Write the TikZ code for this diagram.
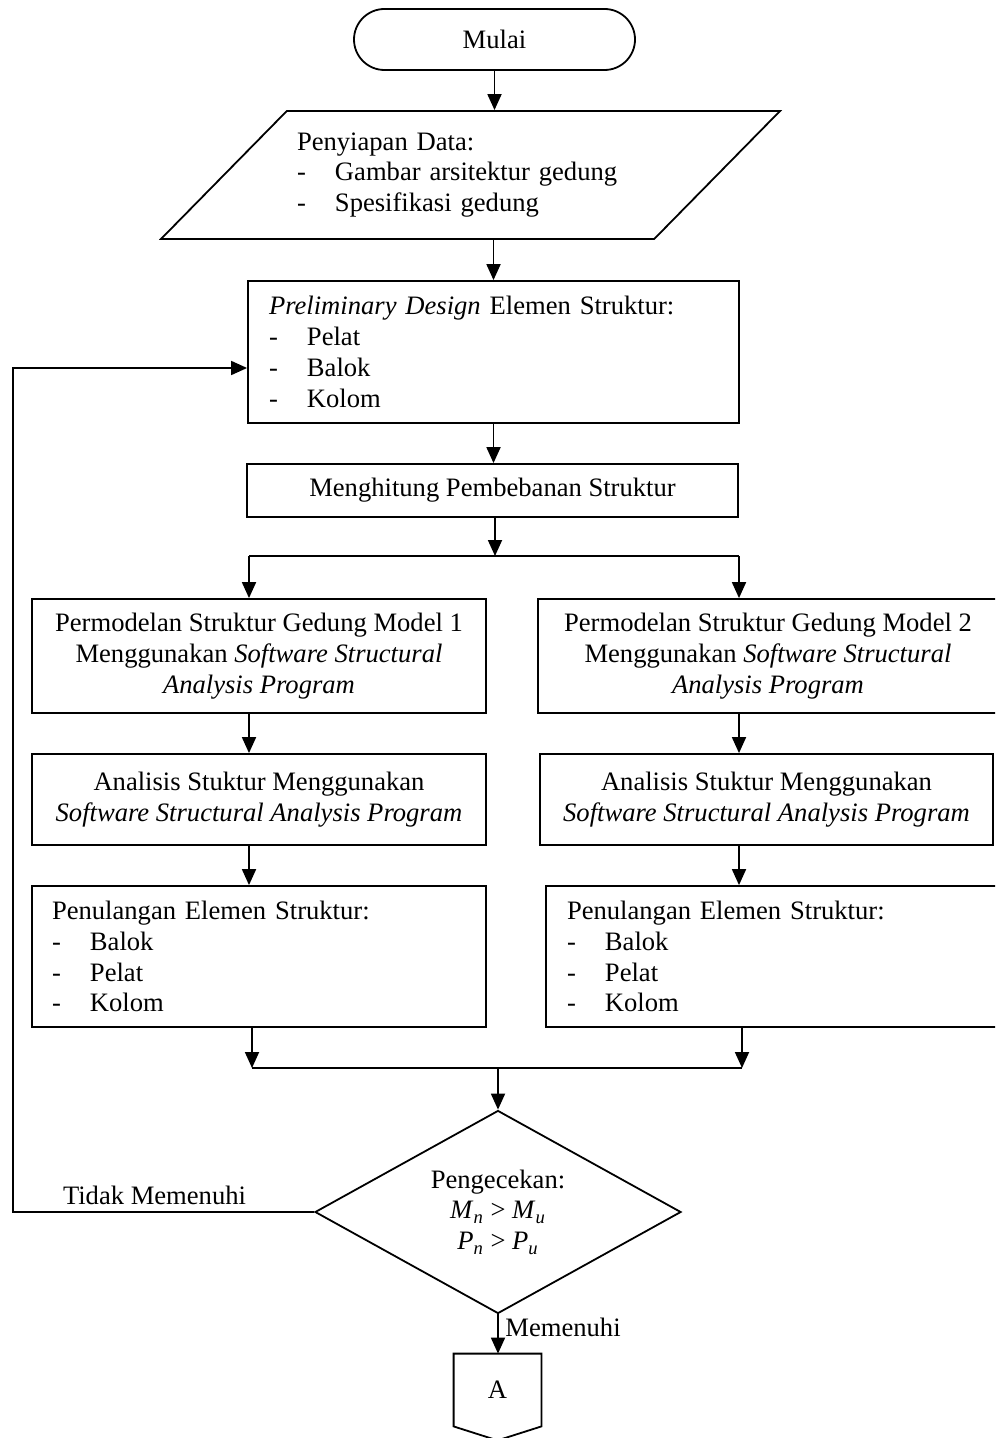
\documentclass[tikz,border=0pt]{standalone}
\usepackage{fontspec}
\setmainfont{Liberation Serif}
\usetikzlibrary{shapes.geometric,shapes.misc,arrows.meta}

\newcommand{\butir}[1]{\makebox[19pt][l]{-}#1}

\begin{document}
\begin{tikzpicture}[x=0.5pt,y=-0.5pt]
    % styles
    \tikzset{
      teks/.style      = {font={\fontsize{13.3pt}{15.4pt}\selectfont}},
      garis/.style     = {line width=0.9pt, draw=black},
      panah/.style     = {garis, -{Triangle[length=8pt,width=7pt]}},
      kotak/.style     = {teks, garis, rectangle, inner sep=0pt},
      terminal/.style  = {teks, garis, rounded rectangle, inner sep=0pt,
                          minimum width=140.5pt, minimum height=30.5pt},
      masukan/.style   = {teks, garis, trapezium, trapezium left angle=38,
                          trapezium right angle=142, trapezium stretches body,
                          minimum width=309.5pt, minimum height=64pt,
                          align=left, text width=173.5pt},
      keputusan/.style = {teks, garis, diamond, aspect=1.8, inner sep=0pt,
                          minimum width=183pt, minimum height=101.5pt, align=center}
    }
    \useasboundingbox (0,0) rectangle (995,1438);
    \clip (0,0) rectangle (995,1438);

    % Start and data:
    \node[terminal] (mulai) at (494.5,39.5) {Mulai};
    \node[masukan] (data) at (470.5,175)
      {Penyiapan Data:\\ \butir{Gambar arsitektur gedung}\\ \butir{Spesifikasi gedung}};

    % Design and loads:
    \node[kotak, minimum width=245.5pt, minimum height=71pt, align=left,
          text width=224.5pt, inner xsep=10.5pt] (prelim) at (493.5,352)
      {\textit{Preliminary Design} Elemen Struktur:\\ \butir{Pelat}\\ \butir{Balok}\\ \butir{Kolom}};
    \node[kotak, minimum width=245.5pt, minimum height=26.5pt] (hitung) at (492.5,490.5)
      {Menghitung Pembebanan Struktur};

    % Model 1:
    \node[kotak, minimum width=227pt, minimum height=57pt, align=center] (model1) at (259,656)
      {Permodelan Struktur Gedung Model 1\\ Menggunakan \textit{Software Structural}\\ \textit{Analysis Program}};
    \node[kotak, minimum width=227pt, minimum height=45.5pt, align=center] (analisis1) at (259,799.5)
      {Analisis Stuktur Menggunakan\\ \textit{Software Structural Analysis Program}};
    \node[kotak, minimum width=227pt, minimum height=70.5pt, align=left,
          text width=207pt, inner xsep=10pt] (tulangan1) at (259,956.5)
      {Penulangan Elemen Struktur:\\ \butir{Balok}\\ \butir{Pelat}\\ \butir{Kolom}};

    % Model 2:
    \node[kotak, minimum width=230pt, minimum height=57pt, align=center] (model2) at (768,656)
      {Permodelan Struktur Gedung Model 2\\ Menggunakan \textit{Software Structural}\\ \textit{Analysis Program}};
    \node[kotak, minimum width=226.5pt, minimum height=45.5pt, align=center] (analisis2) at (766.5,799.5)
      {Analisis Stuktur Menggunakan\\ \textit{Software Structural Analysis Program}};
    \node[kotak, minimum width=227pt, minimum height=70.5pt, align=left,
          text width=206pt, inner xsep=10.5pt] (tulangan2) at (773,956.5)
      {Penulangan Elemen Struktur:\\ \butir{Balok}\\ \butir{Pelat}\\ \butir{Kolom}};

    % Check and connector:
    \node[keputusan] (cek) at (498,1212)
      {Pengecekan:\\ \textit{M}\textsubscript{\textit{n}} > \textit{M}\textsubscript{\textit{u}}\\
       \textit{P}\textsubscript{\textit{n}} > \textit{P}\textsubscript{\textit{u}}};
    \node[teks, minimum width=43.5pt, minimum height=36pt, inner sep=0pt] (konektor) at (497.5,1390) {A};
    \draw[garis] (konektor.north west) -- (konektor.north east) -- (konektor.south east)
      -- ([yshift=-7pt]konektor.south) -- (konektor.south west) -- cycle;

    \coordinate (cabang) at (495,556);
    \coordinate (cabangkiri) at (249,556);
    \coordinate (cabangkanan) at (739,556);
    \coordinate (gabung) at (499,1068);
    \coordinate (gabungkiri) at (252,1068);
    \coordinate (gabungkanan) at (742,1068);
    \coordinate (balik) at (13,368);

    % Flow:
    \draw[panah] (mulai.south) -- (mulai.south |- data.north);
    \draw[panah] (prelim.north |- data.south) -- (prelim.north);
    \draw[panah] (prelim.south) -- (prelim.south |- hitung.north);
    \draw[panah] (cabang |- hitung.south) -- (cabang);
    \draw[garis] (cabangkiri) -- (cabangkanan);
    \draw[panah] (cabangkiri) -- (cabangkiri |- model1.north);
    \draw[panah] (cabangkanan) -- (cabangkanan |- model2.north);
    \draw[panah] (cabangkiri |- model1.south) -- (cabangkiri |- analisis1.north);
    \draw[panah] (cabangkanan |- model2.south) -- (cabangkanan |- analisis2.north);
    \draw[panah] (cabangkiri |- analisis1.south) -- (cabangkiri |- tulangan1.north);
    \draw[panah] (cabangkanan |- analisis2.south) -- (cabangkanan |- tulangan2.north);
    \draw[panah] (gabungkiri |- tulangan1.south) -- (gabungkiri);
    \draw[panah] (gabungkanan |- tulangan2.south) -- (gabungkanan);
    \draw[garis] (gabungkiri) -- (gabungkanan);
    \draw[panah] (cek.north |- gabung) -- (cek.north);
    \draw[panah] (cek.south) -- node[teks, anchor=west, pos=0.32, inner xsep=3.25pt] {Memenuhi}
      (cek.south |- konektor.north);

    % Back loop:
    \draw[panah] (cek.west) -- node[teks, above, pos=0.53] {Tidak Memenuhi} (cek.west -| balik)
      -- (balik) -- (balik -| prelim.west);
\end{tikzpicture}
\end{document}
